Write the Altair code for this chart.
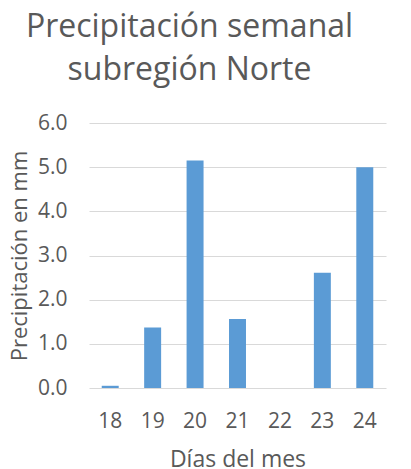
import altair as alt
import pandas as pd

dias = ["18", "19", "20", "21", "22", "23", "24"]
precipitacion = [0.05, 1.37, 5.15, 1.56, 0.0, 2.61, 5.0]
y_ticks = [0, 1, 2, 3, 4, 5, 6]

df = pd.DataFrame({"dia": dias, "mm": precipitacion})

FONT = "Open Sans"
TXT = "#595959"

chart = alt.Chart(df).mark_bar(color="#5B9BD5").encode(
    x=alt.X(
        "dia:N",
        sort=dias,
        scale=alt.Scale(paddingInner=0.6, paddingOuter=0.3),
        axis=alt.Axis(
            title="Días del mes", labelAngle=0, ticks=False, domain=False,
            labelFont=FONT, labelFontSize=21, labelColor=TXT, labelPadding=22,
            titleFont=FONT, titleFontSize=23, titleFontWeight="normal",
            titleColor=TXT, titlePadding=17,
        ),
    ),
    y=alt.Y(
        "mm:Q",
        scale=alt.Scale(domain=[0, 6]),
        axis=alt.Axis(
            title="Precipitación en mm", values=y_ticks, format=".1f",
            grid=True, gridColor="#D9D9D9", gridWidth=1.2,
            domain=False, ticks=False,
            labelFont=FONT, labelFontSize=21, labelColor=TXT, labelPadding=22,
            titleFont=FONT, titleFontSize=22, titleFontWeight="normal",
            titleColor=TXT, titlePadding=6,
        ),
    ),
).properties(
    width=297,
    height=265,
    title=alt.TitleParams(
        ["Precipitación semanal", "subregión Norte"],
        font=FONT, fontSize=32, fontWeight="normal", color=TXT,
        lineHeight=43, anchor="middle", frame="group", dx=-48, offset=25,
    ),
    autosize=alt.AutoSizeParams(type="none"),
    padding={"left": 81, "top": 115, "right": 17, "bottom": 80},
).configure_view(stroke=None)

chart.save("out.html", embed_options={"renderer": "svg", "actions": False})
